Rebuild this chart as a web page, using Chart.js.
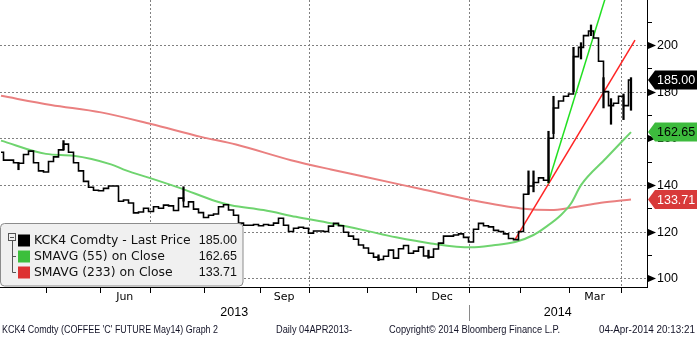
<!DOCTYPE html>
<html>
<head>
<meta charset="utf-8">
<script src="https://cdn.jsdelivr.net/npm/chart.js@4/dist/chart.umd.min.js"></script>
<style>
  html, body { margin: 0; padding: 0; background: #fff; }
  #wrap { width: 697px; height: 337px; }
</style>
</head>
<body>
<div id="wrap"><canvas id="chart" width="697" height="337"></canvas></div>
<script>
// KCK4 daily, sessions counted from 04 Apr 2013 (every second session)
const days = [
  0, 2, 4, 6, 8, 10, 12, 14, 16, 18, 20, 22, 24, 26, 28, 30, 32, 34, 36, 38,
  40, 42, 44, 46, 48, 50, 52, 54, 56, 58, 60, 62, 64, 66, 68, 70, 72, 74, 76, 78,
  80, 82, 84, 86, 88, 90, 92, 94, 96, 98, 100, 102, 104, 106, 108, 110, 112, 114, 116, 118,
  120, 122, 124, 126, 128, 130, 132, 134, 136, 138, 140, 142, 144, 146, 148, 150, 152, 154, 156, 158,
  160, 162, 164, 166, 168, 170, 172, 174, 176, 178, 180, 182, 184, 186, 188, 190, 192, 194, 196, 198,
  200, 202, 204, 206, 208, 210, 212, 214, 216, 218, 220, 222, 224, 226, 228, 230, 232, 234, 236, 238,
  240, 242, 244, 246, 248, 250, 252
];
const closes = [
  154, 150.6, 150.6, 149.5, 149.3, 153, 154.5, 149.5, 146, 145.5, 150, 152, 155, 157.5, 154, 149.5, 146, 141.5, 139, 137.7,
  137.5, 138.5, 139.5, 139.5, 133, 133.5, 132.2, 128, 128.4, 130, 128.6, 130.6, 130, 131.3, 131, 129, 134.3, 130.6, 132.7, 129.6,
  128.1, 126, 127, 127.5, 130.6, 131.5, 129.2, 127, 123.6, 122.7, 122.7, 123, 122.5, 123, 122.7, 123.6, 125.7, 122.7, 120, 121.4,
  121.8, 121.4, 119.3, 120.2, 120.2, 120, 122.3, 123.5, 122.5, 119.7, 118, 116.7, 114.2, 112.9, 110.7, 109, 108, 109.4, 112, 108.6,
  112.6, 114, 110.7, 111.6, 113.3, 109.5, 109, 112.5, 115, 118, 118, 118.5, 119, 117.5, 115.5, 121, 123.5, 122.5, 122, 120.5,
  120, 119, 117, 116.5, 120, 136, 139.5, 141, 143, 142, 160, 173, 176, 178, 179, 195, 199, 204, 206, 203,
  193, 180, 174, 175, 178, 174, 185
];

// sessions with a wide daily range
const wickDays  = [7, 25, 73, 151, 171, 211, 213, 219, 221, 229, 232, 236, 241, 244, 249, 252];
const wickLows  = [146.5, 155, 133, 107.5, 108.5, 136, 137, 141, 162, 180, 194, 204, 173, 166, 168, 172];
const wickHighs = [149.5, 159, 139.2, 110, 112, 146, 146, 163, 178, 199, 201, 208.6, 186, 177, 179, 186];

// 55-day simple moving average
const sma55Days = [0, 18, 29, 44, 50, 60, 72, 86, 92, 105, 118, 132, 145, 158, 172, 188, 197, 206, 213, 218, 224, 228, 232, 242, 252];
const sma55 = [159, 153.3, 152.5, 148.8, 146.2, 142.8, 138.5, 133, 131.3, 129.2, 126.3, 123.5, 120.6, 117.5, 114.9, 113.2, 114.1, 115.6, 118.5, 122, 127.1, 132, 139.9, 151.4, 162.65];

// 233-day simple moving average
const sma233Days = [0, 20, 40, 60, 80, 94, 116, 132, 145, 168, 188, 208, 220, 228, 240, 252];
const sma233 = [178.2, 174.3, 171.1, 166.1, 160.6, 157.3, 150.6, 146.6, 143.6, 138.2, 133.5, 129.9, 129.2, 130.2, 132.3, 133.71];

// hand-drawn trend lines
const steepTrendDays = [218.8, 243.5];
const steepTrend = [140.6, 226.3];
const slowTrendDays = [205.6, 253.6];
const slowTrend = [116.5, 202.1];

// time axis: first session of each month May..Apr
const monthStarts = [18, 39.5, 59.5, 81, 103.5, 123, 146.5, 166, 187, 207.5, 227, 248];
const quarterStarts = [59.5, 123, 187, 248];
const monthLabels = ['Jun', 'Sep', 'Dec', 'Mar'];
const monthLabelAt = [49.5, 113.25, 176.5, 237.5];
const yearLabels = ['2013', '2014'];
const yearBreak = 187;

// price axis
const majorTicks = [100, 120, 140, 160, 180, 200];
const minorTicks = [110, 130, 150, 170, 190, 210];

const legendNames = ['KCK4 Comdty - Last Price', 'SMAVG (55) on Close', 'SMAVG (233) on Close'];
const legendColors = ['#000000', '#3cbf3c', '#dd3232'];

const footer = [
  { text: "KCK4 Comdty (COFFEE 'C' FUTURE May14) Graph 2", x: 2, w: 216 },
  { text: 'Daily 04APR2013-', x: 276, w: 76 },
  { text: 'Copyright\u00A9 2014 Bloomberg Finance L.P.', x: 389, w: 171 },
  { text: '04-Apr-2014 20:13:21', x: 599, w: 96 }
];

const pts = (xs, ys) => xs.map((d, i) => ({ x: d, y: ys[i] }));

function fmt(v) { return v.toFixed(2); }

function tag(ctx, py, fill, color, text) {
  const h = 9.5, tip = 648, body = 655;
  ctx.beginPath();
  ctx.moveTo(tip, py);
  ctx.lineTo(body, py - h);
  ctx.lineTo(697, py - h);
  ctx.lineTo(697, py + h);
  ctx.lineTo(body, py + h);
  ctx.closePath();
  ctx.fillStyle = fill;
  ctx.fill();
  ctx.fillStyle = color;
  ctx.font = '12.5px "Liberation Sans"';
  ctx.textAlign = 'left';
  ctx.textBaseline = 'middle';
  ctx.fillText(text, 657, py + 0.5);
}

const frame = {
  id: 'frame',
  beforeDraw(chart) {
    const { ctx, chartArea: a, scales: { x, y } } = chart;
    ctx.save();
    ctx.fillStyle = '#fff';
    ctx.fillRect(0, 0, chart.width, chart.height);
    ctx.strokeStyle = '#808080';
    ctx.lineWidth = 1;
    ctx.setLineDash([2, 2]);
    ctx.beginPath();
    majorTicks.forEach(v => {
      const py = Math.round(y.getPixelForValue(v)) + 0.5;
      ctx.moveTo(a.left, py); ctx.lineTo(a.right, py);
    });
    quarterStarts.forEach(d => {
      const px = Math.round(x.getPixelForValue(d)) + 0.5;
      ctx.moveTo(px, a.top); ctx.lineTo(px, a.bottom);
    });
    ctx.stroke();
    ctx.restore();
  },
  afterDraw(chart) {
    const { ctx, chartArea: a, scales: { x, y } } = chart;
    ctx.save();

    // legend panel
    ctx.beginPath();
    ctx.roundRect(0.5, 223.5, 242.5, 62.5, 4);
    ctx.fillStyle = '#f0f0f0';
    ctx.fill();
    ctx.strokeStyle = '#8c8c8c';
    ctx.lineWidth = 1;
    ctx.stroke();
    ctx.strokeStyle = '#555';
    ctx.strokeRect(8.5, 233.5, 7, 7);
    ctx.beginPath();
    ctx.moveTo(10, 237.5); ctx.lineTo(14, 237.5);
    ctx.moveTo(12.5, 241); ctx.lineTo(12.5, 272.5);
    ctx.moveTo(12.5, 256.5); ctx.lineTo(16, 256.5);
    ctx.moveTo(12.5, 272.5); ctx.lineTo(16, 272.5);
    ctx.stroke();
    const lastVals = [closes[closes.length - 1], sma55[sma55.length - 1], sma233[sma233.length - 1]];
    legendNames.forEach((name, i) => {
      const cy = 240.5 + i * 16;
      ctx.fillStyle = legendColors[i];
      ctx.fillRect(18, cy - 6, 12, 12);
      ctx.fillStyle = '#111';
      ctx.textBaseline = 'middle';
      ctx.textAlign = 'left';
      ctx.font = '12.4px "DejaVu Sans"';
      ctx.fillText(name, 34, cy + 0.5);
      ctx.textAlign = 'right';
      ctx.font = '12.5px "Liberation Sans"';
      ctx.fillText(fmt(lastVals[i]), 237, cy + 0.5);
    });

    // axis lines
    ctx.strokeStyle = '#000';
    ctx.lineWidth = 1;
    ctx.beginPath();
    ctx.moveTo(a.left, a.bottom + 0.5); ctx.lineTo(a.right + 1, a.bottom + 0.5);
    ctx.moveTo(a.right + 0.5, a.top); ctx.lineTo(a.right + 0.5, a.bottom + 1);
    monthStarts.forEach(d => {
      const px = Math.round(x.getPixelForValue(d)) + 0.5;
      ctx.moveTo(px, a.bottom); ctx.lineTo(px, a.bottom + 6);
    });
    minorTicks.forEach(v => {
      const py = Math.round(y.getPixelForValue(v)) + 0.5;
      ctx.moveTo(a.right, py); ctx.lineTo(a.right + 5, py);
    });
    ctx.stroke();

    // year break
    ctx.strokeStyle = '#8a8a8a';
    ctx.beginPath();
    const yb = Math.round(x.getPixelForValue(yearBreak)) + 0.5;
    ctx.moveTo(yb, 305); ctx.lineTo(yb, 321);
    ctx.stroke();

    ctx.fillStyle = '#000';
    ctx.textBaseline = 'middle';
    ctx.textAlign = 'center';
    ctx.font = '11px "DejaVu Sans"';
    monthLabels.forEach((m, i) => ctx.fillText(m, x.getPixelForValue(monthLabelAt[i]), 297));
    ctx.font = '12.5px "Liberation Sans"';
    ctx.fillText(yearLabels[0], (a.left + x.getPixelForValue(yearBreak)) / 2, 312.5);
    ctx.fillText(yearLabels[1], (x.getPixelForValue(yearBreak) + a.right) / 2, 312.5);

    // price ticks
    ctx.textAlign = 'left';
    majorTicks.forEach(v => {
      const py = Math.round(y.getPixelForValue(v)) + 0.5;
      ctx.beginPath();
      ctx.moveTo(a.right + 1, py - 3.5);
      ctx.lineTo(a.right + 9, py);
      ctx.lineTo(a.right + 1, py + 3.5);
      ctx.closePath();
      ctx.fillStyle = '#000';
      ctx.fill();
      ctx.fillText(String(v), a.right + 10, py + 0.5);
    });

    // last value tags
    tag(ctx, y.getPixelForValue(lastVals[2]), '#d83a3a', '#fff', fmt(lastVals[2]));
    tag(ctx, y.getPixelForValue(lastVals[1]), '#3dbb3d', '#000', fmt(lastVals[1]));
    tag(ctx, y.getPixelForValue(lastVals[0]), '#000', '#fff', fmt(lastVals[0]));

    // footer
    ctx.fillStyle = '#141428';
    ctx.font = '10px "Liberation Sans"';
    ctx.textAlign = 'left';
    footer.forEach(f => ctx.fillText(f.text, f.x, 330, f.w));

    ctx.restore();
  }
};

new Chart(document.getElementById('chart'), {
  type: 'line',
  data: {
    datasets: [
      {
        label: legendNames[0],
        data: pts(days, closes),
        borderColor: '#000',
        borderWidth: 1.6,
        stepped: 'middle',
        pointRadius: 0,
        order: 1
      },
      {
        type: 'bar',
        label: 'range',
        data: wickDays.map((d, i) => ({ x: d, y: [wickLows[i], wickHighs[i]] })),
        backgroundColor: '#000',
        barThickness: 1.6,
        order: 1
      },
      {
        label: 'steep trend',
        data: pts(steepTrendDays, steepTrend),
        borderColor: '#22e022',
        borderWidth: 1.5,
        pointRadius: 0,
        order: 2
      },
      {
        label: 'slow trend',
        data: pts(slowTrendDays, slowTrend),
        borderColor: '#ff2424',
        borderWidth: 1.5,
        pointRadius: 0,
        order: 2
      },
      {
        label: legendNames[1],
        data: pts(sma55Days, sma55),
        borderColor: '#6fd46f',
        borderWidth: 2,
        pointRadius: 0,
        cubicInterpolationMode: 'monotone',
        order: 3
      },
      {
        label: legendNames[2],
        data: pts(sma233Days, sma233),
        borderColor: '#ea8080',
        borderWidth: 2,
        pointRadius: 0,
        cubicInterpolationMode: 'monotone',
        order: 3
      }
    ]
  },
  options: {
    responsive: false,
    animation: false,
    events: [],
    layout: { padding: { left: 0, top: 0, right: 50, bottom: 50 } },
    plugins: { legend: { display: false }, tooltip: { enabled: false } },
    scales: {
      x: { type: 'linear', min: -0.4, max: 258.4, offset: false, display: false },
      y: { type: 'linear', min: 96.2, max: 219.3, display: false }
    }
  },
  plugins: [frame]
});
</script>
</body>
</html>
